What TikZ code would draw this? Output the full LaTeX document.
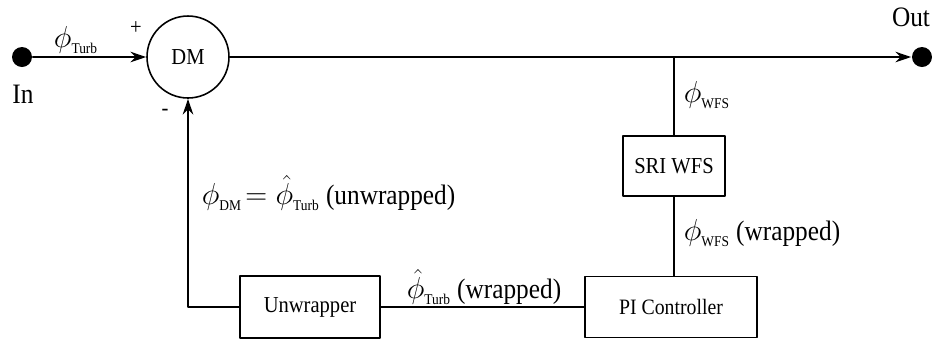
\documentclass[tikz,border=0pt]{standalone}
\usepackage{amsmath}
\usepackage{fontspec}
\setmainfont{Liberation Serif}[FakeStretch=0.9]
\usetikzlibrary{arrows.meta, positioning}

\newcommand{\lbl}[1]{\mbox{\fontsize{8.5}{9}\selectfont #1}}
\newcommand{\ph}{\mbox{\fontsize{16}{18}\selectfont$\phi$}}
\newcommand{\phh}{\mbox{\fontsize{16}{18}\selectfont$\hat{\phi}$}}

\tikzset{
  blk/.style={draw, rectangle, inner sep=0pt},
  dot/.style={circle, fill, inner sep=0pt, minimum size=0.4cm},
  sumnode/.style={draw, circle, inner sep=0pt, minimum size=1.64cm},
  sig/.style={font=\fontsize{16}{18}\selectfont}
}

\begin{document}
\begin{tikzpicture}[x=0.02cm, y=-0.02cm, line width=0.9pt, line cap=round, line join=round,
  >={Stealth[length=9pt,width=6pt]}, font=\fontsize{13}{15}\selectfont]

\useasboundingbox (0,0) rectangle (938,343);

% ingresso, DM e uscita
\node[dot] (in) at (22,57) {};
\node[sumnode] (dm) at (188,57) {DM};
\node[dot] (out) at (922,57) {};

% blocchi
\node[blk, minimum width=2.04cm, minimum height=1.2cm] (wfs) at (674,166) {SRI WFS};
\node[blk, minimum width=3.44cm, minimum height=1.22cm, font=\fontsize{12.5}{15}\selectfont] (pic) at (671,307) {PI Controller};
\node[blk, minimum width=2.8cm, minimum height=1.24cm] (unw) at (310,307) {Unwrapper};

% diramazione
\coordinate (br) at (674,57);

% collegamenti
\draw[->] (in) -- (dm);
\draw[->] (dm) -- (out);
\draw (br) -- (wfs.north);
\draw (wfs.south) -- (wfs.south |- pic.north);
\draw (unw.east) -- (unw.east -| pic.west);
\draw[->] (unw.west) -| (dm.south);

% etichette
\node[sig] (lin) at (23,94) {In};
\node[sig] (lout) at (911,17) {Out};
\node (lplus) at (136,28) {+};
\node (lminus) at (165,112) {-};
\node (lturb) at (76,40) {$\ph_{\lbl{Turb}}$};
\node[anchor=west, inner sep=0pt] (lwfs) at (683,95) {$\ph_{\lbl{WFS}}$};
\node[sig, anchor=west, inner sep=0pt] (lwfsw) at (683,233) {$\ph_{\lbl{WFS}}$ (wrapped)};
\node[sig, anchor=west, inner sep=0pt] (lturbw) at (406,287) {$\phh_{\lbl{Turb}}$ (wrapped)};
\node[sig, anchor=west, inner sep=0pt] (ldm) at (201,193) {$\ph_{\lbl{DM}}\!=\phh_{\lbl{Turb}}$ (unwrapped)};
\end{tikzpicture}
\end{document}
